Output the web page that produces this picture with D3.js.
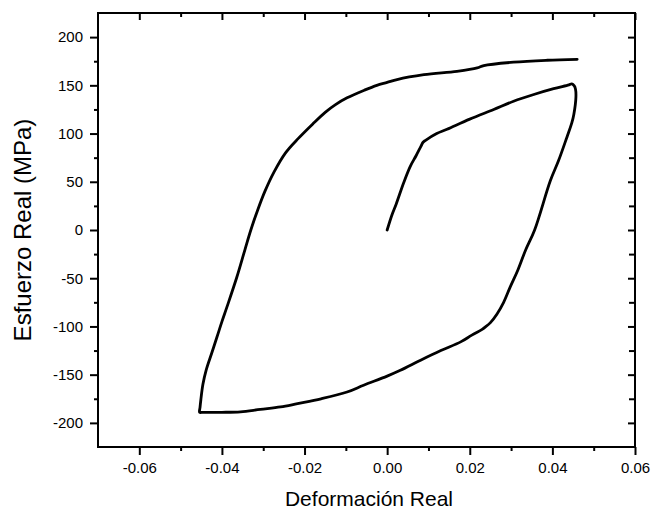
<!DOCTYPE html>
<html>
<head>
<meta charset="utf-8">
<script src="https://cdn.jsdelivr.net/npm/d3@7"></script>
<style>
  html, body { margin: 0; padding: 0; background: #fff; }
  svg { display: block; }
  text { font-family: "Liberation Sans", Arial, Helvetica, sans-serif; fill: #000; }
</style>
</head>
<body>
<svg id="chart" width="654" height="515"></svg>
<script>
// ---- Data ----
const strain = [
  0.0000, 0.0012, 0.0022, 0.0040, 0.0056, 0.0070, 0.0082, 0.0087, 0.0093, 0.0120, 0.0145,
  0.0200, 0.0258, 0.0306, 0.0355, 0.0403, 0.0440, 0.0447,
  0.0453, 0.0456, 0.0457, 0.0452, 0.0447, 0.0435, 0.0415, 0.0395, 0.0357, 0.0335, 0.0316,
  0.0298, 0.0282, 0.0266, 0.0250, 0.0238, 0.0230, 0.0205, 0.0178, 0.0130, 0.0081, 0.0032,
  0.0000, -0.0057, -0.0097, -0.0160, -0.0217, -0.0258, -0.0307, -0.0355, -0.0400, -0.0445, -0.0454,
  -0.0453, -0.0451, -0.0446, -0.0438, -0.0425, -0.0412, -0.0400, -0.0388, -0.0364, -0.0344, -0.0330,
  -0.0314, -0.0296, -0.0274, -0.0246, -0.0215, -0.0180, -0.0150, -0.0125, -0.0097, -0.0055, -0.0025,
  0.0000, 0.0024, 0.0089, 0.0169, 0.0218, 0.0234, 0.0306, 0.0387, 0.0460
];
const stress = [
  0, 16, 27, 49, 66, 77, 87, 91, 93, 100, 104.5,
  115, 125, 133.5, 140.5, 146.5, 150.5, 151.5,
  149.5, 146, 138, 120, 111, 96, 72, 51, 0, -21, -42,
  -59, -75, -87, -96, -100.5, -103, -109, -116, -125, -135, -145.5,
  -151.5, -161, -168, -175, -180, -183.5, -186, -188.5, -189, -189, -189,
  -184, -176, -160, -145, -128, -111, -95, -80, -49, -20, 0,
  20, 40, 60, 80, 95, 110, 122, 130, 137, 145, 150,
  153, 156, 161, 164.5, 168, 170.5, 174, 176, 177
];
const xTickValues = [-0.06, -0.04, -0.02, 0.00, 0.02, 0.04, 0.06];
const xMinorValues = [-0.05, -0.03, -0.01, 0.01, 0.03, 0.05];
const yTickValues = [-200, -150, -100, -50, 0, 50, 100, 150, 200];
const yMinorValues = [-175, -125, -75, -25, 25, 75, 125, 175];
const xDomain = [-0.07, 0.06];
const yDomain = [-225, 225];
const xTitle = "Deformación Real";
const yTitle = "Esfuerzo Real (MPa)";

// ---- Layout ----
const W = 654, H = 515;
const margin = { left: 98, right: 19, top: 13, bottom: 68 };
const iw = W - margin.left - margin.right;
const ih = H - margin.top - margin.bottom;

const svg = d3.select("#chart");
const g = svg.append("g").attr("transform", `translate(${margin.left},${margin.top})`);

const x = d3.scaleLinear().domain(xDomain).range([0, iw]);
const y = d3.scaleLinear().domain(yDomain).range([ih, 0]);

const loc = d3.formatLocale({ decimal: ".", thousands: ",", grouping: [3], currency: ["", ""], minus: "-" });
const fmtX = loc.format(".2f");
const fmtY = loc.format("d");
const tickFont = 15;

// Bottom axis (outward ticks)
const axB = g.append("g").attr("transform", `translate(0,${ih})`)
  .call(d3.axisBottom(x).tickValues(xTickValues).tickSize(8).tickPadding(7).tickFormat(fmtX));
axB.append("g").call(d3.axisBottom(x).tickValues(xMinorValues).tickSize(4).tickFormat(""));
// Top axis (inward ticks)
const axT = g.append("g")
  .call(d3.axisTop(x).tickValues(xTickValues).tickSize(-7).tickFormat(""));
axT.append("g").call(d3.axisTop(x).tickValues(xMinorValues).tickSize(-4).tickFormat(""));
// Left axis (outward ticks)
const axL = g.append("g")
  .call(d3.axisLeft(y).tickValues(yTickValues).tickSize(8).tickPadding(7).tickFormat(fmtY));
axL.append("g").call(d3.axisLeft(y).tickValues(yMinorValues).tickSize(4).tickFormat(""));
// Right axis (inward ticks)
const axR = g.append("g").attr("transform", `translate(${iw},0)`)
  .call(d3.axisRight(y).tickValues(yTickValues).tickSize(-7).tickFormat(""));
axR.append("g").call(d3.axisRight(y).tickValues(yMinorValues).tickSize(-6).tickFormat(""));

g.selectAll(".domain").remove();
g.selectAll(".tick line").attr("stroke", "#000").attr("stroke-width", 2);
g.selectAll(".tick text").attr("font-size", tickFont)
  .attr("font-family", '"Liberation Sans", Arial, sans-serif').attr("fill", "#000");

// Frame
g.append("rect").attr("x", 0).attr("y", 0).attr("width", iw).attr("height", ih)
  .attr("fill", "none").attr("stroke", "#000").attr("stroke-width", 2);

// Curve
const pts = strain.map((s, i) => [s, stress[i]]);
g.append("path").datum(pts)
  .attr("fill", "none").attr("stroke", "#000").attr("stroke-width", 2.8)
  .attr("stroke-linejoin", "round").attr("stroke-linecap", "round")
  .attr("d", d3.line().curve(d3.curveCatmullRom.alpha(0.5)).x(d => x(d[0])).y(d => y(d[1])));

// Titles
svg.append("text").attr("x", 369).attr("y", 506).attr("text-anchor", "middle")
  .attr("font-size", 21).text(xTitle);
svg.append("text").attr("transform", `translate(31,230) rotate(-90)`)
  .attr("text-anchor", "middle").attr("font-size", 24).text(yTitle);
</script>
</body>
</html>
